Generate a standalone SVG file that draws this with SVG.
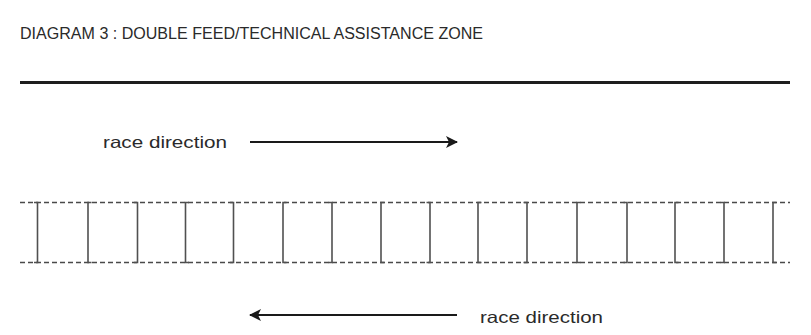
<svg xmlns="http://www.w3.org/2000/svg" width="811" height="335" viewBox="0 0 811 335">
<style>
.title{font-family:"Liberation Sans",Arial,sans-serif;font-size:16px;fill:#2a2a2a}
.lbl{font-family:"Liberation Sans",Arial,sans-serif;font-size:16.5px;fill:#2a2a2a}
.rail{stroke:#4a4a4a;stroke-width:1.3;stroke-dasharray:5 3;fill:none}
.br{stroke:#505050;stroke-width:1.6;fill:none}
.arr{stroke:#1a1a1a;stroke-width:2;fill:none}
</style>
<defs>
<marker id="ah" viewBox="0 0 12 12" refX="11" refY="6" markerWidth="12" markerHeight="12" markerUnits="userSpaceOnUse" orient="auto">
<path d="M0,0 L12,6 L0,12 L3,6 Z" fill="#1a1a1a"/>
</marker>
</defs>
<rect width="811" height="335" fill="#fff"/>
<g id="title"><text class="title" x="20" y="38.5" textLength="463" lengthAdjust="spacingAndGlyphs">DIAGRAM 3 : DOUBLE FEED/TECHNICAL ASSISTANCE ZONE</text></g>
<g id="barrier"><line x1="20" y1="82.5" x2="790" y2="82.5" stroke="#1e1e1e" stroke-width="3"/></g>
<g id="label-top"><text class="lbl" x="103" y="148" textLength="124" lengthAdjust="spacingAndGlyphs">race direction</text></g>
<g id="label-bottom"><text class="lbl" x="480" y="323" textLength="123" lengthAdjust="spacingAndGlyphs">race direction</text></g>
<g id="zone">
<line class="rail" x1="20" y1="202.5" x2="790" y2="202.5"/>
<line class="rail" x1="20" y1="262.5" x2="790" y2="262.5"/>
<path class="br" d="M34,202.5 H37.5 V262.5 H34"/>
<path class="br" d="M91.5,202.5 H88 V262.5 H91.5 M134,202.5 H137.5 V262.5 H134"/>
<path class="br" d="M189,202.5 H185.5 V262.5 H189 M230,202.5 H233.5 V262.5 H230"/>
<path class="br" d="M286.5,202.5 H283 V262.5 H286.5 M328.5,202.5 H332 V262.5 H328.5"/>
<path class="br" d="M384.5,202.5 H381 V262.5 H384.5 M426.5,202.5 H430 V262.5 H426.5"/>
<path class="br" d="M481.5,202.5 H478 V262.5 H481.5 M523.5,202.5 H527 V262.5 H523.5"/>
<path class="br" d="M580.5,202.5 H577 V262.5 H580.5 M623.5,202.5 H627 V262.5 H623.5"/>
<path class="br" d="M678.5,202.5 H675 V262.5 H678.5 M720.5,202.5 H724 V262.5 H720.5"/>
<path class="br" d="M776.5,202.5 H773 V262.5 H776.5"/>
</g>
<g id="connectors">
<line class="arr" x1="250" y1="142" x2="457" y2="142" marker-end="url(#ah)"/>
<line class="arr" x1="457" y1="315" x2="250" y2="315" marker-end="url(#ah)"/>
</g>
</svg>
